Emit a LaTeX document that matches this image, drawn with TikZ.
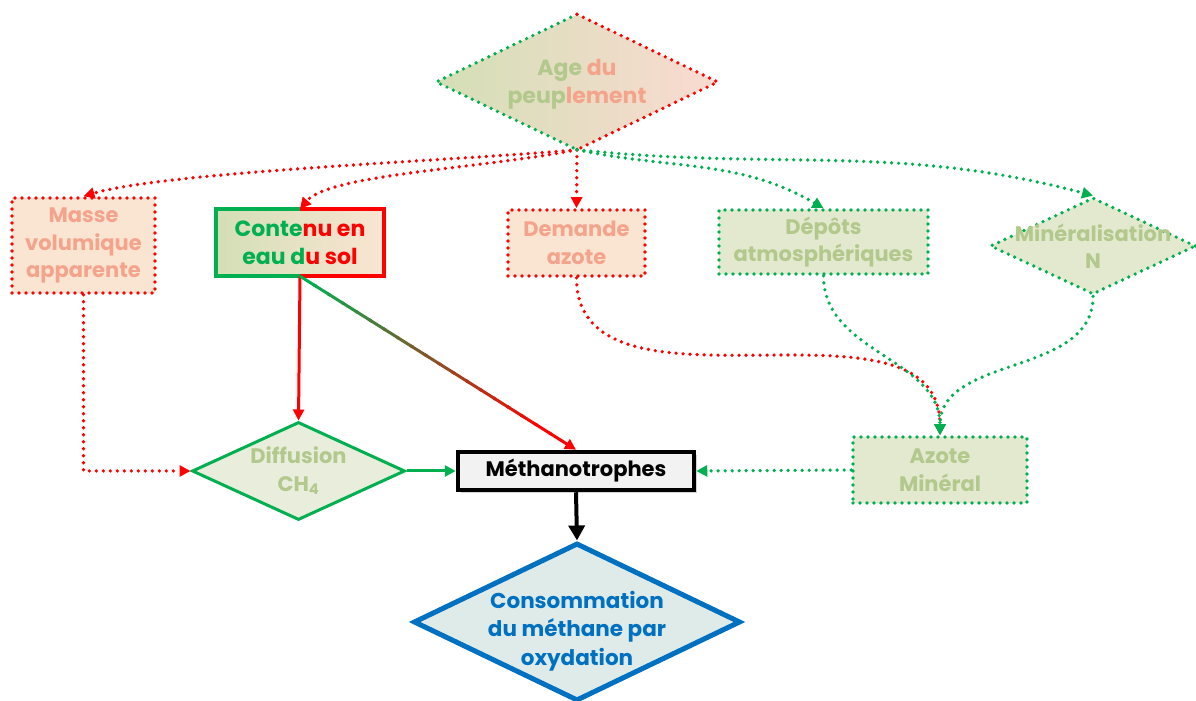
\documentclass[tikz,border=0pt]{standalone}
\usepackage{fontspec}
\setmainfont{Poppins}
\usetikzlibrary{calc}
\usetikzlibrary{arrows.meta}
\usetikzlibrary{shapes.geometric}
\usetikzlibrary{shadows}

\definecolor{dotgreen}{HTML}{00B050}
\definecolor{dotred}{HTML}{FF0000}
\definecolor{palegreen}{HTML}{B3C88C}
\definecolor{salmon}{HTML}{F4A48C}
\definecolor{peach}{HTML}{FAE5D2}
\definecolor{leaf}{HTML}{E3E9CF}
\definecolor{leafdark}{HTML}{D3DFB6}
\definecolor{tan}{HTML}{DCC8AE}
\definecolor{diffill}{HTML}{E8EEDB}
\definecolor{oxblue}{HTML}{0070C0}
\definecolor{oxfill}{HTML}{DFEBE8}

\tikzset{
  txt/.style={font=\bfseries\fontsize{21}{27.5}\selectfont, align=center},
  dotline/.style={line width=3.7pt, line cap=round, dash pattern=on 0pt off 7pt},
  arrowhd/.style={-{Triangle[length=11pt,width=11pt]}},
  redbox/.style={rectangle, draw=dotred, dotline, fill=peach, txt, text=salmon},
  greenbox/.style={rectangle, draw=dotgreen, dotline, fill=leaf, txt, text=palegreen},
  lozenge/.style={diamond, inner sep=0pt},
}

\begin{document}
\begin{tikzpicture}[x=1pt,y=1pt]
\useasboundingbox (0,0) rectangle (1196,701);

% top of the diagram
\node[lozenge, minimum width=281pt, minimum height=135pt,
  left color=leafdark, middle color=peach!90, right color=salmon!40] (age) at (577,619) {};
\draw[dotgreen, dotline] (age.north) -- (age.west) -- (age.south);
\draw[dotred, dotline] (age.north) -- (age.east) -- (age.south);
\node[txt, font=\bfseries\fontsize{22}{28}\selectfont] (age-t) at ($(age)+(0,-2)$)
  {{\color{palegreen}Age }{\color{salmon}du}\\{\color{palegreen}peup}{\color{salmon}lement}};

\node[redbox, minimum width=143pt, minimum height=95pt] (masse) at (83.5,455.5) {Masse\\volumique\\apparente};
\node[rectangle, txt, font=\bfseries\fontsize{22}{28}\selectfont, minimum width=168pt, minimum height=67pt,
  left color=leafdark, middle color=tan, right color=peach] (contenu) at (300,458.5)
  {{\color{dotgreen}Conte}{\color{dotred}nu en}\\{\color{dotgreen}eau d}{\color{dotred}u sol}};
\draw[dotgreen, line width=4pt] (contenu.north) -- (contenu.north west) -- (contenu.south west) -- (contenu.south);
\draw[dotred, line width=4pt] (contenu.north) -- (contenu.north east) -- (contenu.south east) -- (contenu.south);
\node[redbox, minimum width=137pt, minimum height=66pt] (demande) at (576.5,458) {Demande\\azote};
\node[greenbox, minimum width=209pt, minimum height=64pt] (depots) at (823.5,459) {Dépôts\\atmosphériques};
\node[lozenge, minimum width=206pt, minimum height=97pt, draw=dotgreen, dotline, fill=leaf] (minera) at (1093,455) {};
\node[txt, text=palegreen] (minera-t) at (minera) {Minéralisation\\N};

% middle row
\node[lozenge, minimum width=213pt, minimum height=98pt, draw=dotgreen, line width=3pt, fill=diffill] (diffusion) at (298.5,230) {};
\node[txt, text=palegreen] (diffusion-t) at (diffusion) {Diffusion\\CH\textsubscript{4}};
\node[rectangle, draw=black, line width=4.5pt, fill=gray!10, minimum width=236pt, minimum height=38pt, txt,
  drop shadow={opacity=0.35, shadow xshift=3pt, shadow yshift=-3pt}] (metha) at (576,230) {Méthanotrophes};
\node[greenbox, minimum width=174pt, minimum height=66pt] (azote) at (940,231) {Azote\\Minéral};

% bottom
\node[lozenge, minimum width=327pt, minimum height=158pt, draw=oxblue, line width=5pt, fill=oxfill] (conso) at (577,79) {};
\node[txt, text=oxblue, font=\bfseries\fontsize{21.5}{28.5}\selectfont] (conso-t) at ($(conso)+(0,-9)$)
  {Consommation\\du méthane par\\oxydation};

% links from the age
\draw[dotred, dotline, arrowhd] (age.south) .. controls (470,541) and (170,530) .. (masse.north);
\draw[dotred, dotline, arrowhd] (age.south) .. controls (480,532) and (330,527) .. (contenu.north);
\draw[dotred, dotline, arrowhd] (age.south) -- (demande.north);
\draw[dotgreen, dotline, arrowhd] (age.south) to[out=-12, in=150] (depots.north);
\draw[dotgreen, dotline, arrowhd] (age.south) to[out=-6, in=165] (minera.north);

% links to azote
\draw[dotred, dotline, arrowhd] (demande.south) to[out=270, in=90] (azote.north);
\draw[dotgreen, dotline, arrowhd] (depots.south) to[out=270, in=90] (azote.north);
\draw[dotgreen, dotline, arrowhd] (minera.south) to[out=270, in=90] (azote.north);

% water content
\draw[dotred, line width=3pt, arrowhd] (contenu.south) -- (diffusion.north);
\foreach \i in {0,...,17} {
  \pgfmathsetmacro\pa{\i/20}
  \pgfmathsetmacro\pb{(\i+1.2)/20}
  \pgfmathtruncatemacro\mix{100*\i/17}
  \draw[line width=3pt, dotred!\mix!dotgreen] ($(contenu.south)!\pa!(metha.north)$) -- ($(contenu.south)!\pb!(metha.north)$);
}
\draw[dotred, line width=3pt, arrowhd] ($(contenu.south)!0.9!(metha.north)$) -- (metha.north);

% to the methanotrophs
\draw[dotred, dotline, arrowhd] (masse.south) |- (diffusion.west);
\draw[dotgreen, line width=3pt, arrowhd] (diffusion.east) -- (metha.west);
\draw[dotgreen, dotline, arrowhd] (azote.west) -- (metha.east);
\draw[black, line width=4pt, -{Triangle[length=15pt,width=16pt]}] (metha.south) -- (conso.north);
\end{tikzpicture}
\end{document}
